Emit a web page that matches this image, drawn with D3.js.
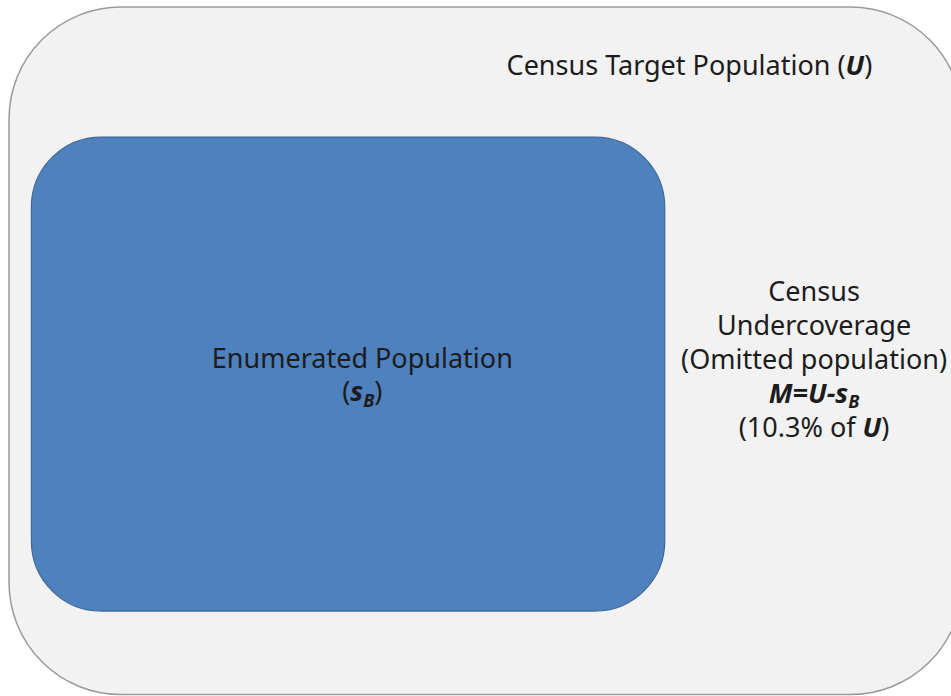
<!DOCTYPE html>
<html>
<head>
<meta charset="utf-8">
<script src="https://cdn.jsdelivr.net/npm/d3@7"></script>
<style>
  body { margin: 0; background: #fff; }
  svg { display: block; }
  text { font-family: "Noto Sans", sans-serif; fill: #1c1c1c; }
</style>
</head>
<body>
<script>
const w = 951;
const h = 696;

// diagram content
const outerTitle = ["Census Target Population (", "U", ")"];
const innerLabel = ["Enumerated Population"];
const undercoverLines = ["Census", "Undercoverage", "(Omitted population)"];
const omittedShare = [10.3];

const svg = d3.select("body")
  .append("svg")
  .attr("width", w)
  .attr("height", h);

// one shared scale for the page layout (0..100 units)
const x = d3.scaleLinear().domain([0, 100]).range([0, w]);
const y = d3.scaleLinear().domain([0, 100]).range([0, h]);

// outer box = target population
svg.append("rect")
  .attr("x", x(0.95))
  .attr("y", y(1.0))
  .attr("width", x(101.2) - x(0.95))
  .attr("height", y(99.8) - y(1.0))
  .attr("rx", 112)
  .attr("ry", 112)
  .attr("fill", "#f2f2f2")
  .attr("stroke", "#9a9a9a")
  .attr("stroke-width", 1.5);

// inner box = enumerated population
svg.append("rect")
  .attr("x", x(3.3))
  .attr("y", y(19.7))
  .attr("width", x(69.9) - x(3.3))
  .attr("height", y(87.8) - y(19.7))
  .attr("rx", 70)
  .attr("ry", 70)
  .attr("fill", "#4f81bf")
  .attr("stroke", "#3d6897")
  .attr("stroke-width", 1.2);

const fs = 27;
const sub = "18px";

// title
const t = svg.append("text")
  .attr("x", x(72.5))
  .attr("y", 75)
  .attr("text-anchor", "middle")
  .style("font-size", fs + "px");
t.append("tspan").text(outerTitle[0]);
t.append("tspan").text(outerTitle[1]).style("font-weight", "bold").style("font-style", "italic");
t.append("tspan").text(outerTitle[2]);

// inner label
const cx = x(38.1);
svg.append("text")
  .attr("x", cx)
  .attr("y", 368)
  .attr("text-anchor", "middle")
  .style("font-size", fs + "px")
  .text(innerLabel[0]);

const sb = svg.append("text")
  .attr("x", cx)
  .attr("y", 401)
  .attr("text-anchor", "middle")
  .style("font-size", fs + "px");
sb.append("tspan").text("(");
sb.append("tspan").text("s").style("font-weight", "bold").style("font-style", "italic");
sb.append("tspan").text("B").attr("dy", 6).style("font-size", sub)
  .style("font-weight", "bold").style("font-style", "italic");
sb.append("tspan").text(")").attr("dy", -6);

// undercoverage block
const rx = x(85.6);
svg.selectAll("text.under")
  .data(undercoverLines)
  .enter()
  .append("text")
  .attr("class", "under")
  .attr("x", rx)
  .attr("y", (d, i) => 301 + i * 34)
  .attr("text-anchor", "middle")
  .style("font-size", fs + "px")
  .text(d => d);

const m = svg.append("text")
  .attr("x", rx)
  .attr("y", 403)
  .attr("text-anchor", "middle")
  .style("font-size", fs + "px")
  .style("font-weight", "bold")
  .style("font-style", "italic");
m.append("tspan").text("M=U-s");
m.append("tspan").text("B").attr("dy", 5).style("font-size", sub);

const p = svg.append("text")
  .attr("x", rx)
  .attr("y", 437)
  .attr("text-anchor", "middle")
  .style("font-size", fs + "px");
p.append("tspan").text("(" + d3.format(".1f")(omittedShare[0]) + "% of ");
p.append("tspan").text("U").style("font-weight", "bold").style("font-style", "italic");
p.append("tspan").text(")");
</script>
</body>
</html>
